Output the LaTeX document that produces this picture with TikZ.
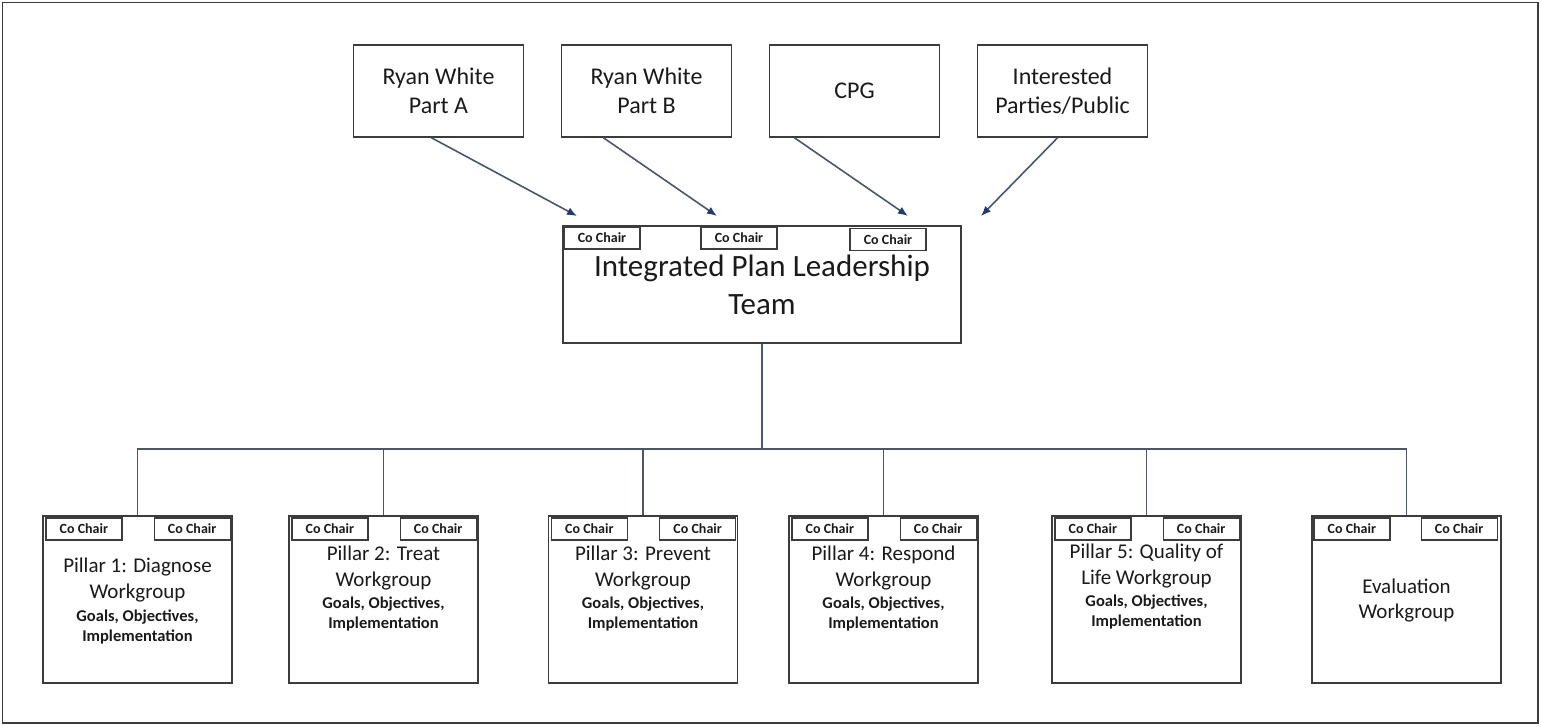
\documentclass[tikz,border=0pt]{standalone}
\usepackage{fontspec}
\setmainfont{Carlito}
\usetikzlibrary{arrows.meta,positioning}
\definecolor{boxgray}{HTML}{3C3C3C}
\definecolor{linkgray}{HTML}{4A566B}
\definecolor{headblue}{HTML}{1F3C6E}
\definecolor{txt}{HTML}{1A1A1A}

\begin{document}
\begin{tikzpicture}[x=1pt, y=-1pt, node distance=208pt, text=txt,
  box/.style={draw=boxgray, line width=1.6pt, rectangle, inner sep=0pt, align=center},
  topbox/.style={box, minimum width=170pt, minimum height=92pt, font=\fontsize{24}{29}\selectfont},
  leadbox/.style={box, minimum width=398pt, minimum height=117pt, font=\fontsize{31}{38}\selectfont},
  pillar/.style={box, minimum width=189pt, minimum height=167pt},
  cochair/.style={box, line width=1.3pt, minimum width=76pt, minimum height=22pt, font=\bfseries\fontsize{14}{16}\selectfont},
  ptitle/.style={inner sep=0pt, align=center, font=\fontsize{21}{25.5}\selectfont},
  pgoals/.style={inner sep=0pt, align=center, font=\bfseries\fontsize{16.5}{20}\selectfont},
  link/.style={draw=linkgray, line width=1.6pt},
  arrow/.style={link, -{Latex[length=10pt, width=8pt, color=headblue]}}]
\useasboundingbox (0,0) rectangle (1541,726);
\draw [boxgray, line width=1.6pt] (2.5,2.5) rectangle (1538,723);

% sources
\node [topbox] (rwa) at (438.5,91) {Ryan White\\Part A};
\node [topbox, right of=rwa] (rwb) {Ryan White\\Part B};
\node [topbox, right of=rwb] (cpg) {CPG};
\node [topbox, right of=cpg] (pub) {Interested\\Parties/Public};

% leadership team
\node [leadbox] (lead) at (762,284.5) {Integrated Plan Leadership\\Team};
\node [cochair] (lc1) at (602,238) {Co Chair};
\node [cochair] (lc2) at (739,238) {Co Chair};
\node [cochair] (lc3) at (888,239.5) {Co Chair};

\coordinate (tipa) at (577,216);
\coordinate (tipb) at (717,216);
\coordinate (tipc) at (908,216);
\coordinate (tipd) at (981,216);

\draw [arrow] ([xshift=-7pt]rwa.south) -- (tipa);
\draw [arrow] ([xshift=-43pt]rwb.south) -- (tipb);
\draw [arrow] ([xshift=-60pt]cpg.south) -- (tipc);
\draw [arrow] ([xshift=-5pt]pub.south) -- (tipd);

% workgroups
\node [pillar] (p1) at (137.5,599.5) {};
\node [pillar] (p2) at (383.5,599.5) {};
\node [pillar] (p3) at (643,599.5) {};
\node [pillar] (p4) at (883.5,599.5) {};
\node [pillar] (p5) at (1146.5,599.5) {};
\node [pillar] (p6) at (1406.5,599.5) {};

\node [cochair, anchor=north west] (c1a) at ([xshift=3pt, yshift=-2pt]p1.north west) {Co Chair};
\node [cochair, anchor=north east] (c1b) at ([xshift=-2pt, yshift=-2pt]p1.north east) {Co Chair};
\node [cochair, anchor=north west] (c2a) at ([xshift=3pt, yshift=-2pt]p2.north west) {Co Chair};
\node [cochair, anchor=north east] (c2b) at ([xshift=-2pt, yshift=-2pt]p2.north east) {Co Chair};
\node [cochair, anchor=north west] (c3a) at ([xshift=3pt, yshift=-2pt]p3.north west) {Co Chair};
\node [cochair, anchor=north east] (c3b) at ([xshift=-2pt, yshift=-2pt]p3.north east) {Co Chair};
\node [cochair, anchor=north west] (c4a) at ([xshift=3pt, yshift=-2pt]p4.north west) {Co Chair};
\node [cochair, anchor=north east] (c4b) at ([xshift=-2pt, yshift=-2pt]p4.north east) {Co Chair};
\node [cochair, anchor=north west] (c5a) at ([xshift=3pt, yshift=-2pt]p5.north west) {Co Chair};
\node [cochair, anchor=north east] (c5b) at ([xshift=-2pt, yshift=-2pt]p5.north east) {Co Chair};
\node [cochair, anchor=north west] (c6a) at ([xshift=2pt, yshift=-2pt]p6.north west) {Co Chair};
\node [cochair, anchor=north east] (c6b) at ([xshift=-4pt, yshift=-2pt]p6.north east) {Co Chair};

\node [ptitle] (t1) at (137.5,580) {Pillar 1: Diagnose\\Workgroup};
\node [pgoals] (g1) at (137.5,627) {Goals, Objectives,\\Implementation};
\node [ptitle] (t2) at (383.5,568) {Pillar 2: Treat\\Workgroup};
\node [pgoals] (g2) at (383.5,614) {Goals, Objectives,\\Implementation};
\node [ptitle] (t3) at (643,568) {Pillar 3: Prevent\\Workgroup};
\node [pgoals] (g3) at (643,614) {Goals, Objectives,\\Implementation};
\node [ptitle] (t4) at (883.5,568) {Pillar 4: Respond\\Workgroup};
\node [pgoals] (g4) at (883.5,614) {Goals, Objectives,\\Implementation};
\node [ptitle] (t5) at (1146.5,566) {Pillar 5: Quality of\\Life Workgroup};
\node [pgoals] (g5) at (1146.5,612) {Goals, Objectives,\\Implementation};
\node [ptitle] (t6) at (1406.5,600.5) {Evaluation\\Workgroup};

% tree
\coordinate (trunk) at (762,449);
\draw [link] (lead.south) -- (trunk);
\draw [link] (p1.north) |- (trunk);
\draw [link] (p2.north) |- (trunk);
\draw [link] (p3.north) |- (trunk);
\draw [link] (p4.north) |- (trunk);
\draw [link] (p5.north) |- (trunk);
\draw [link] (p6.north) |- (trunk);
\end{tikzpicture}
\end{document}
